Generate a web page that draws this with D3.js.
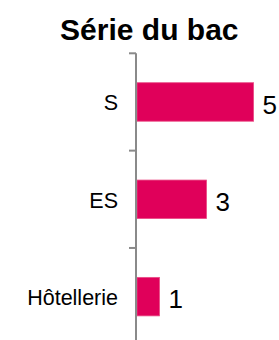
<!DOCTYPE html>
<html><head><meta charset="utf-8">
<script src="https://cdn.jsdelivr.net/npm/d3@7"></script>
<style>html,body{margin:0;padding:0;background:#fff;}svg{display:block;}</style>
</head><body>
<svg id="c" width="279" height="340"></svg>
<script>
const title = "Série du bac";
const categories = ["S", "ES", "Hôtellerie"];
const values = [5, 3, 1];

const svg = d3.select("#c");
const font = "'Liberation Sans', Arial, sans-serif";

const y = d3.scaleBand().domain(categories).range([53.3, 345.3]).padding(0);
const x = d3.scaleLinear().domain([0, 5]).range([136, 253.6]);
const barH = 38.5;

svg.append("text").attr("x", 149.3).attr("y", 40).attr("text-anchor", "middle")
  .attr("font-family", font).attr("font-weight", "bold").attr("font-size", 30)
  .attr("fill", "#000").text(title);

// bars
svg.selectAll("rect.bar").data(categories).join("rect").attr("class", "bar")
  .attr("x", x(0) + 1)
  .attr("y", d => y(d) + (y.bandwidth() - barH) / 2)
  .attr("width", (d, i) => x(values[i]) - x(0) - 1)
  .attr("height", barH)
  .attr("fill", "#e0005a")
  .attr("stroke", "#ea4d86").attr("stroke-width", 0.8);

// axis line
svg.append("line").attr("x1", x(0)).attr("x2", x(0))
  .attr("y1", y.range()[0]).attr("y2", y.range()[1])
  .attr("stroke", "#8a8a8a").attr("stroke-width", 2);
// ticks at band boundaries
svg.selectAll("line.tick").data(categories).join("line").attr("class", "tick")
  .attr("x1", x(0) - 7).attr("x2", x(0))
  .attr("y1", d => y(d)).attr("y2", d => y(d))
  .attr("stroke", "#8a8a8a").attr("stroke-width", 2);

// category labels
svg.selectAll("text.cat").data(categories).join("text").attr("class", "cat")
  .attr("x", 118).attr("y", d => y(d) + y.bandwidth() / 2 + 8.2)
  .attr("text-anchor", "end")
  .attr("font-family", font).attr("font-size", 21.5).attr("fill", "#000")
  .text(d => d);

// value labels
svg.selectAll("text.val").data(categories).join("text").attr("class", "val")
  .attr("x", (d, i) => x(values[i]) + 9).attr("y", d => y(d) + y.bandwidth() / 2 + 11.6)
  .attr("text-anchor", "start")
  .attr("font-family", font).attr("font-size", 26).attr("fill", "#000")
  .text((d, i) => values[i]);
</script>
</body></html>
